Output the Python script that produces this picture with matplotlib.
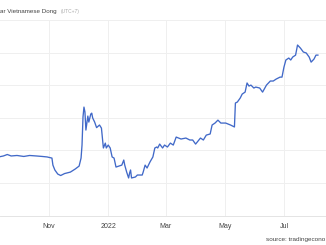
import matplotlib
matplotlib.use("Agg")
import matplotlib.pyplot as plt
import datetime as dt

plt.rcParams["font.family"] = ["Liberation Sans", "DejaVu Sans"]

dates = ["2021-09-11","2021-09-15","2021-09-19","2021-09-23","2021-09-29","2021-10-06","2021-10-12",
         "2021-10-19","2021-10-25","2021-10-30","2021-11-04","2021-11-05","2021-11-07","2021-11-10",
         "2021-11-13","2021-11-17","2021-11-23","2021-11-28","2021-12-02","2021-12-04","2021-12-05",
         "2021-12-06","2021-12-07","2021-12-08","2021-12-09","2021-12-11","2021-12-12","2021-12-14",
         "2021-12-15","2021-12-16","2021-12-18","2021-12-20","2021-12-23","2021-12-25","2021-12-26",
         "2021-12-27","2021-12-29","2021-12-30","2022-01-01","2022-01-03","2022-01-05","2022-01-07",
         "2022-01-09","2022-01-12","2022-01-15","2022-01-17","2022-01-18","2022-01-20","2022-01-22",
         "2022-01-23","2022-01-24","2022-01-25","2022-01-29","2022-01-31","2022-02-05","2022-02-06",
         "2022-02-08","2022-02-10","2022-02-13","2022-02-16","2022-02-18","2022-02-20","2022-02-21",
         "2022-02-23","2022-02-26","2022-02-28","2022-03-03","2022-03-06","2022-03-09","2022-03-12",
         "2022-03-17","2022-03-22","2022-03-26","2022-03-29","2022-04-01","2022-04-06","2022-04-09",
         "2022-04-12","2022-04-16","2022-04-18","2022-04-21","2022-04-24","2022-04-27","2022-05-02",
         "2022-05-07","2022-05-11","2022-05-12","2022-05-14","2022-05-17","2022-05-19","2022-05-22",
         "2022-05-24","2022-05-26","2022-05-28","2022-05-31","2022-06-02","2022-06-06","2022-06-09",
         "2022-06-13","2022-06-17","2022-06-20","2022-06-23","2022-06-27","2022-06-29","2022-07-01",
         "2022-07-03","2022-07-06","2022-07-08","2022-07-10","2022-07-13","2022-07-15","2022-07-18",
         "2022-07-21","2022-07-24","2022-07-27","2022-07-29","2022-08-01","2022-08-03","2022-08-05"]
values = [22761,22766,22775,22766,22769,22763,22769,
          22766,22763,22760,22753,22710,22680,22655,
          22646,22658,22667,22686,22704,22753,22833,
          23005,23066,23036,22925,23011,22974,23023,
          23029,22999,22974,22940,22956,22937,22876,
          22815,22845,22815,22833,22815,22760,22753,
          22698,22704,22710,22741,22710,22667,22631,
          22661,22680,22631,22637,22649,22649,22667,
          22710,22692,22729,22760,22815,22821,22815,
          22839,22815,22833,22821,22845,22833,22882,
          22870,22876,22864,22864,22839,22876,22864,
          22894,22901,22956,22968,22986,22968,22968,
          22956,22944,23091,23097,23122,23146,23158,
          23214,23195,23201,23183,23189,23183,23158,
          23201,23226,23226,23238,23250,23250,23311,
          23355,23367,23355,23373,23385,23447,23428,
          23404,23398,23373,23342,23361,23385,23385]

tick_dates = ["2021-11-01","2022-01-01","2022-03-01","2022-05-01","2022-07-01"]
tick_labels = ["Nov","2022","Mar","May","Jul"]
y_ticks = [22400,22600,22800,23000,23200,23400,23600]

title_text = "ar Vietnamese Dong"
tz_text = "(UTC+7)"
source_text = "source: tradingecono"

x = [dt.datetime.strptime(d, "%Y-%m-%d") for d in dates]
tx = [dt.datetime.strptime(d, "%Y-%m-%d") for d in tick_dates]

fig = plt.figure(figsize=(3.26, 2.45), dpi=100)
ax = fig.add_axes([0.0, 0.12, 1.0, 0.798])
ax.plot(x, values, color="#4169c8", lw=0.95, solid_joinstyle="round")

ax.set_xlim(dt.datetime(2021, 9, 11, 12), dt.datetime(2022, 8, 13, 8))
ax.set_ylim(22400, 23600)
ax.set_yticks(y_ticks)
ax.set_xticks(tx)
ax.set_xticklabels(tick_labels)
ax.tick_params(axis="x", length=0, labelsize=5.0, labelcolor="#444444", pad=5)
ax.tick_params(axis="y", length=0, labelleft=False, labelright=False)
ax.grid(True, color="#efefef", lw=0.7)
ax.set_axisbelow(True)
for s in ["top", "right", "left"]:
    ax.spines[s].set_visible(False)
ax.spines["bottom"].set_color("#e4e4e4")
ax.spines["bottom"].set_linewidth(0.7)

fig.text(0.5/326, 1 - 13.5/245, title_text, ha="left", va="baseline",
         fontsize=4.5, color="#444444")
fig.text(60.5/326, 1 - 13.5/245, tz_text, ha="left", va="baseline",
         fontsize=3.5, color="#aaaaaa")
fig.text(325.5/326, 1 - 241/245, source_text, ha="right", va="baseline",
         fontsize=4.6, color="#444444")

fig.savefig("out.png", dpi=100)
